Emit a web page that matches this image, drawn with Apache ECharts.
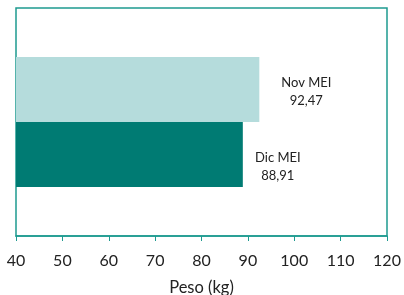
<!DOCTYPE html>
<html>
<head>
<meta charset="utf-8">
<script src="https://cdn.jsdelivr.net/npm/echarts@6/dist/echarts.min.js"></script>
<style>
  html, body { margin: 0; padding: 0; background: #fff; }
  #main { width: 404px; height: 295px; }
</style>
</head>
<body>
<div id="main"></div>
<script>
  // datos
  var categories = ['Peso'];
  var seriesNames = ['Nov MEI', 'Dic MEI'];
  var novValues = [92.47];
  var dicValues = [88.91];
  var xTicks = { min: 40, max: 120, interval: 10 };

  var fontFam = 'Lato, "Noto Sans", sans-serif';
  var teal = '#1e9a90';

  function fmt(v) {
    return v.toFixed(2).replace('.', ',');
  }

  var myChart = echarts.init(document.getElementById('main'));
  var option = {
    animation: false,
    grid: {
      left: 16,
      right: 17,
      top: 8,
      bottom: 59,
      show: true,
      borderColor: teal,
      borderWidth: 1.5,
      containLabel: false,
      outerBoundsMode: 'none'
    },
    xAxis: {
      type: 'value',
      min: xTicks.min,
      max: xTicks.max,
      interval: xTicks.interval,
      name: 'Peso (kg)',
      nameLocation: 'middle',
      nameGap: 43,
      nameTextStyle: { fontFamily: fontFam, fontSize: 16.5, color: '#222' },
      axisLine: { show: true, lineStyle: { color: teal, width: 1.5 } },
      axisTick: { show: true, length: 5, lineStyle: { color: teal } },
      axisLabel: { fontFamily: fontFam, fontSize: 16, color: '#222', margin: 17 },
      splitLine: { show: false }
    },
    yAxis: {
      type: 'category',
      data: categories,
      inverse: true,
      axisLine: { show: false },
      axisTick: { show: false },
      axisLabel: { show: false }
    },
    series: [
      {
        name: seriesNames[0],
        type: 'bar',
        data: novValues,
        barGap: '0%',
        barCategoryGap: '43%',
        itemStyle: { color: '#b5dcdc' },
        label: {
          show: true,
          position: 'right',
          distance: 22,
          offset: [0, 2],
          align: 'left',
          fontFamily: fontFam,
          fontSize: 13,
          lineHeight: 18,
          color: '#222',
          formatter: function (p) { return '{a|' + p.seriesName + '}\n{a|' + fmt(p.value) + '}'; },
          rich: { a: { align: 'center', width: 50, fontFamily: fontFam, fontSize: 13, lineHeight: 18, color: '#222' } }
        }
      },
      {
        name: seriesNames[1],
        type: 'bar',
        data: dicValues,
        barGap: '0%',
        barCategoryGap: '43%',
        itemStyle: { color: '#007b73' },
        label: {
          show: true,
          position: 'right',
          distance: 10,
          offset: [0, 12],
          align: 'left',
          fontFamily: fontFam,
          fontSize: 13,
          lineHeight: 18,
          color: '#222',
          formatter: function (p) { return '{a|' + p.seriesName + '}\n{a|' + fmt(p.value) + '}'; },
          rich: { a: { align: 'center', width: 50, fontFamily: fontFam, fontSize: 13, lineHeight: 18, color: '#222' } }
        }
      }
    ]
  };
  myChart.setOption(option, true);
</script>
</body>
</html>
